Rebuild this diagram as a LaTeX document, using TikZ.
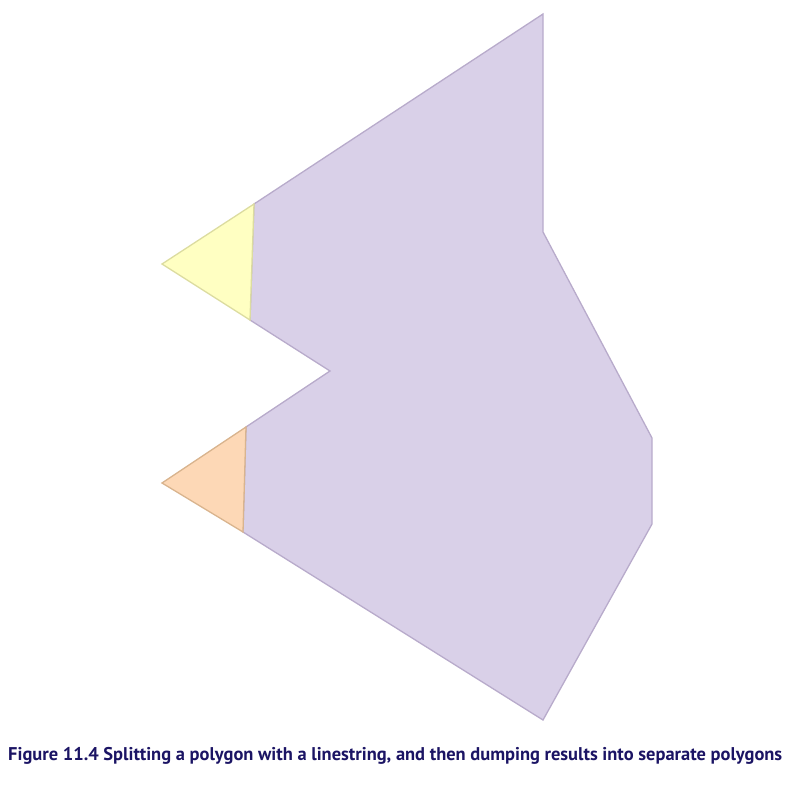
\documentclass[tikz,border=0pt]{standalone}
\usepackage{fontspec}
\setmainfont{PT Sans}
\definecolor{purplefill}{HTML}{D9D0E8}
\definecolor{purpleline}{HTML}{B8ABCB}
\definecolor{yellowfill}{HTML}{FFFFC2}
\definecolor{yellowline}{HTML}{DCDCA0}
\definecolor{orangefill}{HTML}{FDD8B6}
\definecolor{orangeline}{HTML}{D9B48E}
\definecolor{captioncol}{HTML}{1B1464}
\tikzset{
  region/.style={line width=1.3pt, line join=miter},
  purplereg/.style={region, fill=purplefill, draw=purpleline},
  yellowreg/.style={region, fill=yellowfill, draw=yellowline},
  orangereg/.style={region, fill=orangefill, draw=orangeline},
  caption/.style={text=captioncol, font=\bfseries\fontsize{15.5pt}{18pt}\selectfont, inner sep=0pt}
}
\begin{document}
\begin{tikzpicture}[x=1pt,y=-1pt]
\useasboundingbox (0,0) rectangle (792,785);
\coordinate (top) at (543,14);
\coordinate (rnotch) at (543,232);
\coordinate (r1) at (652,438);
\coordinate (r2) at (652,524);
\coordinate (bot) at (543,720);
\coordinate (ob) at (243,532);
\coordinate (ol) at (162,483);
\coordinate (ot) at (246,427);
\coordinate (mid) at (330,371);
\coordinate (yb) at (250,320);
\coordinate (yl) at (162,264);
\coordinate (yt) at (254,204);
\draw[purplereg] (top) -- (rnotch) -- (r1) -- (r2) -- (bot) -- (ob) -- (ot) -- (mid) -- (yb) -- (yt) -- cycle;
\draw[yellowreg] (yt) -- (yl) -- (yb) -- cycle;
\draw[orangereg] (ot) -- (ol) -- (ob) -- cycle;
\node[caption, anchor=base west] (cap) at (8,760) {\resizebox{774pt}{!}{Figure 11.4 Splitting a polygon with a linestring, and then dumping results into separate polygons}};
\end{tikzpicture}
\end{document}
